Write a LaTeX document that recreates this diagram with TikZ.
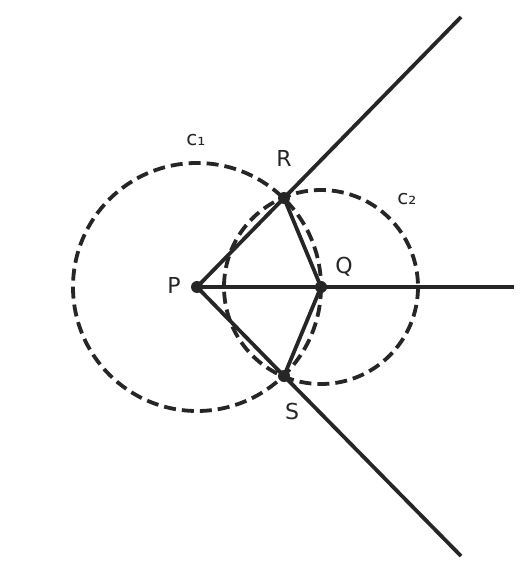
\documentclass[tikz,border=0pt]{standalone}
\usepackage{fontspec}
\setmainfont{DejaVu Sans}
\definecolor{ink}{HTML}{262626}
\begin{document}
\begin{tikzpicture}[x=1pt,y=-1pt,
  ln/.style={draw=ink,line width=3.8pt},
  circ/.style={draw=ink,line width=3.8pt,dash pattern=on 12pt off 6pt},
  dot/.style={circle,fill=ink,inner sep=0pt,minimum size=12pt},
  lbl/.style={text=ink,font=\fontsize{22}{24}\selectfont,inner sep=0pt},
  clbl/.style={text=ink,font=\fontsize{20}{22}\selectfont,inner sep=0pt}]
\useasboundingbox (0,0) rectangle (532,575);
\coordinate (P) at (197,287);
\coordinate (Q) at (321,287);
\coordinate (R) at (284,198);
\coordinate (S) at (284,376);
\coordinate (Rend) at (461,17);
\coordinate (Send) at (461,556);
\coordinate (Qend) at (514,287);
\draw[circ] (P) circle[radius=124];
\draw[circ] (Q) circle[radius=97];
\draw[ln] (P) -- (R) -- (Rend);
\draw[ln] (P) -- (S) -- (Send);
\draw[ln] (P) -- (Q) -- (Qend);
\draw[ln] (R) -- (Q) -- (S);
\node[dot] (dP) at (P) {};
\node[dot] (dQ) at (Q) {};
\node[dot] (dR) at (R) {};
\node[dot] (dS) at (S) {};
\node[lbl] (lP) at (174,285) {P};
\node[lbl] (lQ) at (344,267) {Q};
\node[lbl] (lR) at (284,158) {R};
\node[lbl] (lS) at (292,411) {S};
\node[clbl] (lc1) at (196,140) {c₁};
\node[clbl] (lc2) at (407,199) {c₂};
\end{tikzpicture}
\end{document}
